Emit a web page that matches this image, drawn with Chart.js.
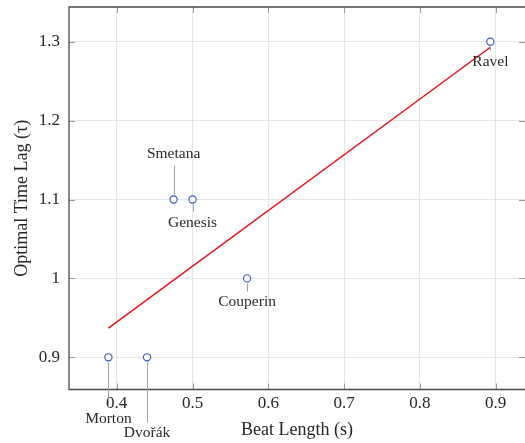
<!DOCTYPE html>
<html>
<head>
<meta charset="utf-8">
<script src="https://cdn.jsdelivr.net/npm/chart.js@4"></script>
<style>
  html, body { margin: 0; padding: 0; background: #ffffff; }
  #wrap { width: 525px; height: 443px; }
</style>
</head>
<body>
<div id="wrap"><canvas id="c" width="525" height="443"></canvas></div>
<script>
// ---- data ----
const pieceNames = ['Ravel', 'Smetana', 'Genesis', 'Couperin', 'Morton', 'Dvořák'];
const beatLength = [0.893, 0.475, 0.500, 0.572, 0.389, 0.440];
const timeLag = [1.3, 1.1, 1.1, 1.0, 0.9, 0.9];
const fitX = [0.389, 0.893];
const fitY = [0.937, 1.293];
const xTicks = [0.4, 0.5, 0.6, 0.7, 0.8, 0.9];
const xTickLabels = ['0.4', '0.5', '0.6', '0.7', '0.8', '0.9'];
const yTicks = [0.9, 1.0, 1.1, 1.2, 1.3];
const yTickLabels = ['0.9', '1', '1.1', '1.2', '1.3'];

// ---- label placement (style, pixels relative to point) ----
const labelDy = [20, -46, 23, 24, 62, 76];

const serif = '"Liberation Serif", "DejaVu Serif", serif';

const decor = {
  id: 'decor',
  beforeDatasetsDraw(chart) {
    const { ctx, chartArea: a, scales: { x, y } } = chart;
    ctx.save();
    ctx.strokeStyle = '#9a9a9a';
    ctx.lineWidth = 1;
    ctx.beginPath();
    xTicks.forEach(v => {
      const px = Math.round(x.getPixelForValue(v)) + 0.5;
      ctx.moveTo(px, a.top); ctx.lineTo(px, a.top + 6);
      ctx.moveTo(px, a.bottom); ctx.lineTo(px, a.bottom - 6);
    });
    yTicks.forEach(v => {
      const py = Math.round(y.getPixelForValue(v)) + 0.5;
      ctx.moveTo(a.left, py); ctx.lineTo(a.left + 6, py);
      ctx.moveTo(a.right, py); ctx.lineTo(a.right - 6, py);
    });
    ctx.stroke();
    ctx.strokeStyle = '#4a4a4a';
    ctx.lineWidth = 1.3;
    ctx.beginPath();
    ctx.moveTo(a.right + 2, a.top); ctx.lineTo(a.left, a.top);
    ctx.lineTo(a.left, a.bottom); ctx.lineTo(a.right + 2, a.bottom);
    ctx.stroke();
    ctx.restore();
  },
  afterDatasetsDraw(chart) {
    const { ctx, scales: { x, y } } = chart;
    ctx.save();
    ctx.font = '15.5px ' + serif;
    ctx.textAlign = 'center';
    ctx.textBaseline = 'middle';
    pieceNames.forEach((name, i) => {
      const px = x.getPixelForValue(beatLength[i]);
      const py = y.getPixelForValue(timeLag[i]);
      const ly = py + labelDy[i];
      ctx.strokeStyle = '#a0a0a0';
      ctx.lineWidth = 1;
      ctx.beginPath();
      const lx = Math.round(px) + 0.5;
      if (labelDy[i] < 0) { ctx.moveTo(lx, py - 5); ctx.lineTo(lx, ly + 12); }
      else { ctx.moveTo(lx, py + 5); ctx.lineTo(lx, ly - 11); }
      ctx.stroke();
      ctx.fillStyle = '#2a2a2a';
      ctx.fillText(name, px, ly);
    });
    ctx.restore();
  }
};

new Chart(document.getElementById('c'), {
  type: 'scatter',
  data: {
    datasets: [
      {
        label: 'pieces',
        data: beatLength.map((v, i) => ({ x: v, y: timeLag[i] })),
        pointRadius: 3.6,
        pointHoverRadius: 3.6,
        pointBorderWidth: 1.1,
        borderColor: '#3555c0',
        backgroundColor: '#ffffff',
        pointBackgroundColor: '#ffffff'
      },
      {
        label: 'fit',
        data: fitX.map((v, i) => ({ x: v, y: fitY[i] })),
        showLine: true,
        pointRadius: 0,
        borderColor: '#e8121a',
        borderWidth: 1.5
      }
    ]
  },
  options: {
    responsive: false,
    animation: false,
    events: [],
    layout: { autoPadding: false, padding: { top: 7, right: 0, left: 0, bottom: 0 } },
    plugins: { legend: { display: false }, tooltip: { enabled: false } },
    scales: {
      x: {
        type: 'linear',
        min: 0.337,
        max: 0.9387,
        afterBuildTicks: s => { s.ticks = xTicks.map(v => ({ value: v })); },
        afterFit: s => { s.height = 53.5; s.paddingLeft = 0; s.paddingRight = 0; s.paddingTop = 0; s.paddingBottom = 0; },
        border: { display: false },
        grid: { color: '#e6e6e6', lineWidth: 1, drawTicks: false },
        ticks: {
          padding: 4,
          color: '#262626',
          font: { family: serif, size: 17 },
          maxRotation: 0,
          callback: (v) => { const k = xTicks.findIndex(t => Math.abs(t - v) < 1e-9); return k >= 0 ? xTickLabels[k] : ''; }
        },
        title: {
          display: true,
          text: 'Beat Length (s)',
          color: '#262626',
          font: { family: serif, size: 18 },
          padding: { top: 0, bottom: 2 }
        }
      },
      y: {
        type: 'linear',
        min: 0.8592,
        max: 1.344,
        afterBuildTicks: s => { s.ticks = yTicks.map(v => ({ value: v })); },
        afterFit: s => { s.width = 69; s.paddingLeft = 0; s.paddingRight = 0; s.paddingTop = 0; s.paddingBottom = 0; },
        border: { display: false },
        grid: { color: '#e6e6e6', lineWidth: 1, drawTicks: false },
        ticks: {
          padding: 9,
          color: '#262626',
          font: { family: serif, size: 17 },
          callback: (v) => { const k = yTicks.findIndex(t => Math.abs(t - v) < 1e-9); return k >= 0 ? yTickLabels[k] : ''; }
        },
        title: {
          display: true,
          text: 'Optimal Time Lag (τ)',
          color: '#262626',
          font: { family: serif, size: 18 },
          padding: { top: 11, bottom: 0 }
        }
      }
    }
  },
  plugins: [decor]
});
</script>
</body>
</html>
